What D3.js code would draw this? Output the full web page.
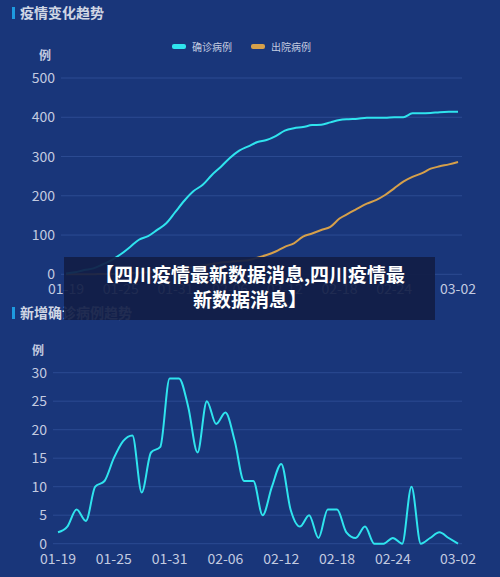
<!DOCTYPE html><html><head><meta charset="utf-8"><script src="https://cdn.jsdelivr.net/npm/d3@7"></script>
<style>body{margin:0;background:#19367a}svg{display:block;font-family:"Noto Sans CJK SC","Noto Sans",sans-serif}</style></head><body><svg id="c" width="500" height="577"></svg>
<script>
const dates=[];{const d=new Date(2020,0,19);for(let i=0;i<44;i++){dates.push(String(d.getMonth()+1).padStart(2,"0")+"-"+String(d.getDate()).padStart(2,"0"));d.setDate(d.getDate()+1);}}
const confirmed=[2,5,11,15,25,36,51,69,88,97,113,130,159,188,212,228,253,274,297,315,326,337,342,352,366,372,375,380,381,387,393,395,396,399,399,399,400,400,410,410,411,413,414,414];
const discharged=[0,0,0,0,1,1,2,3,4,5,7,9,12,15,18,22,26,30,32,34,36,42,49,58,70,79,96,104,113,121,142,155,168,180,189,202,219,236,248,257,269,275,280,286];
const daily=[2,3,6,4,10,11,15,18,19,9,16,17,29,29,24,16,25,21,23,18,11,11,5,10,14,6,3,5,1,6,6,2,1,3,0,0,1,0,10,0,1,2,1,0];
const tickLabels=["01-19","01-25","01-31","02-06","02-12","02-18","02-24","03-02"];
const tickIdx=[0,6,12,18,24,30,36,43];
const topTicks=[0,100,200,300,400,500], botTicks=[0,5,10,15,20,25,30];
const svg=d3.select("#c");
const tc="#c3cbe0", gc="#2c4b92";
function title(y,t){svg.append("rect").attr("x",12).attr("y",y-10).attr("width",3).attr("height",12).attr("fill","#1e9be0");
 svg.append("text").attr("x",20).attr("y",y+1).attr("fill","#d0d6e4").attr("font-size",14).attr("font-weight","bold").text(t);}
title(17,"疫情变化趋势");title(317,"新增确诊病例趋势");
function chart(x0,x1,y0,y1,max,ticks,series,curve,gx0,unitX,unitY){
 const x=d3.scaleLinear().domain([0,43]).range([x0,x1]);
 const y=d3.scaleLinear().domain([0,max]).range([y0,y1]);
 ticks.forEach(t=>{svg.append("line").attr("x1",gx0).attr("x2",462).attr("y1",y(t)).attr("y2",y(t)).attr("stroke",gc).attr("stroke-width",1);
  svg.append("text").attr("x",gx0-6).attr("y",y(t)+5).attr("text-anchor","end").attr("fill",tc).attr("font-size",14).text(t);});
 tickIdx.forEach((i,k)=>svg.append("text").attr("x",x(i)).attr("y",y0+20).attr("text-anchor","middle").attr("fill",tc).attr("font-size",14).text(tickLabels[k]));
 svg.append("text").attr("x",unitX).attr("y",unitY).attr("text-anchor","middle").attr("fill",tc).attr("font-size",12).attr("font-weight","bold").text("例");
 series.forEach(s=>svg.append("path").attr("d",d3.line().x((d,i)=>x(i)).y(d=>y(d)).curve(curve)(s.v)).attr("fill","none").attr("stroke",s.c).attr("stroke-width",2));
}
chart(66,458,274.3,78,500,topTicks,[{v:discharged,c:"#d6a04a"},{v:confirmed,c:"#2fe4ee"}],d3.curveMonotoneX,61,45,60);
chart(58,458,543.7,372.7,30,botTicks,[{v:daily,c:"#2fe4ee"}],d3.curveMonotoneX,53,38,355);
svg.append("rect").attr("x",172).attr("y",44).attr("width",14).attr("height",5).attr("rx",2).attr("fill","#2fe4ee");
svg.append("text").attr("x",192).attr("y",51).attr("fill","#c3cbe0").attr("font-size",10).text("确诊病例");
svg.append("rect").attr("x",251).attr("y",44).attr("width",14).attr("height",5).attr("rx",2).attr("fill","#d6a04a");
svg.append("text").attr("x",271).attr("y",51).attr("fill","#c3cbe0").attr("font-size",10).text("出院病例");
svg.append("rect").attr("x",64).attr("y",257).attr("width",371).attr("height",63).attr("fill","#111d45").attr("opacity",0.92);
svg.append("text").attr("x",250).attr("y",282).attr("text-anchor","middle").attr("fill","#fff").attr("font-size",19).attr("font-weight","bold").text("【四川疫情最新数据消息,四川疫情最");
svg.append("text").attr("x",250).attr("y",307).attr("text-anchor","middle").attr("fill","#fff").attr("font-size",19).attr("font-weight","bold").text("新数据消息】");
</script></body></html>
